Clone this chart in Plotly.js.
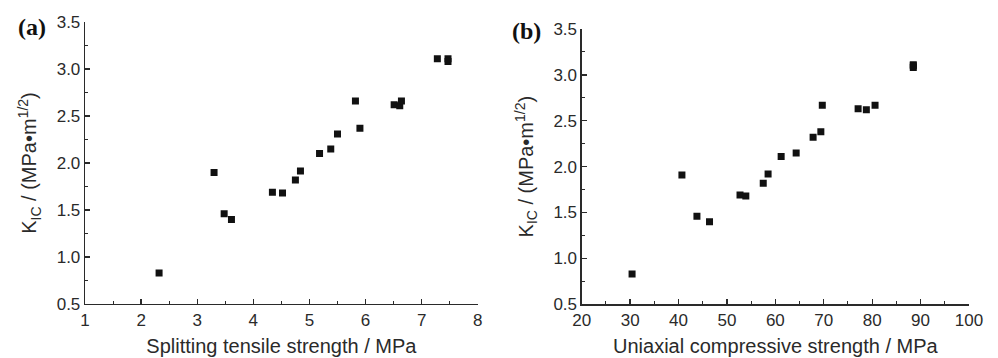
<!DOCTYPE html>
<html>
<head>
<meta charset="utf-8">
<script src="https://cdn.plot.ly/plotly-3.0.1.min.js"></script>
<style>html,body{margin:0;padding:0;background:#fff;}#chart{width:998px;height:358px;}</style>
</head>
<body>
<div id="chart"></div>
<script>
// Panel (a): splitting tensile strength vs K_IC
const tensileStrength = [2.32, 3.30, 3.48, 3.61, 4.34, 4.52, 4.75, 4.84, 5.18, 5.38, 5.50, 5.82, 5.90, 6.51, 6.61, 6.64, 7.28, 7.47, 7.47];
const kicA =            [0.83, 1.90, 1.46, 1.40, 1.69, 1.68, 1.82, 1.915, 2.10, 2.15, 2.31, 2.66, 2.37, 2.62, 2.61, 2.66, 3.11, 3.08, 3.11];
// Panel (b): uniaxial compressive strength vs K_IC
const compressiveStrength = [30.4, 40.7, 43.8, 46.4, 52.7, 53.9, 57.5, 58.5, 61.2, 64.3, 67.8, 69.4, 69.7, 77.1, 78.8, 80.6, 88.5, 88.5, 88.5];
const kicB =                [0.83, 1.91, 1.46, 1.40, 1.69, 1.68, 1.82, 1.92, 2.11, 2.15, 2.32, 2.38, 2.67, 2.63, 2.62, 2.67, 3.11, 3.08, 3.10];

const xTitleA = 'Splitting tensile strength / MPa';
const xTitleB = 'Uniaxial compressive strength / MPa';
const yTitle = 'K<sub>IC</sub> / (MPa\u2022m<sup>1/2</sup>)';

const axisColor = '#2a2a2a';
const tickFont = {family: 'Liberation Sans, Arial, sans-serif', size: 17, color: '#2a2a2a'};
const titleFont = {family: 'Liberation Sans, Arial, sans-serif', size: 20, color: '#2a2a2a'};

const marker = {symbol: 'square', size: 7, color: '#111111', line: {width: 0}};

const traces = [
  {x: tensileStrength, y: kicA, type: 'scatter', mode: 'markers', marker: marker, xaxis: 'x', yaxis: 'y', showlegend: false},
  {x: compressiveStrength, y: kicB, type: 'scatter', mode: 'markers', marker: marker, xaxis: 'x2', yaxis: 'y2', showlegend: false}
];

function axisBase(extra) {
  return Object.assign({
    showline: true, linecolor: axisColor, linewidth: 1.3, mirror: false,
    showgrid: false, zeroline: false,
    ticks: 'inside', ticklen: 5, tickwidth: 1.3, tickcolor: axisColor,
    tickfont: tickFont, fixedrange: true
  }, extra);
}

const layout = {
  width: 998, height: 358,
  margin: {l: 0, r: 0, t: 0, b: 0},
  paper_bgcolor: '#ffffff', plot_bgcolor: '#ffffff',
  xaxis: axisBase({domain: [0.0852, 0.4787], range: [1, 8], dtick: 1, tick0: 1, anchor: 'y',
    minor: {dtick: 0.5, ticks: 'inside', ticklen: 3, tickcolor: axisColor, tickwidth: 1},
    title: {text: xTitleA, font: titleFont, standoff: 10}}),
  yaxis: axisBase({domain: [0.1508, 0.9385], range: [0.5, 3.5], dtick: 0.5, tick0: 0.5, tickformat: '.1f', anchor: 'x',
    minor: {dtick: 0.25, ticks: 'inside', ticklen: 3, tickcolor: axisColor, tickwidth: 1},
    title: {text: yTitle, font: titleFont, standoff: 14}}),
  xaxis2: axisBase({domain: [0.5829, 0.9709], range: [20, 100], dtick: 10, tick0: 20, anchor: 'y2',
    minor: {dtick: 5, ticks: 'inside', ticklen: 3, tickcolor: axisColor, tickwidth: 1},
    title: {text: xTitleB, font: titleFont, standoff: 10}}),
  yaxis2: axisBase({domain: [0.15, 0.919], range: [0.5, 3.5], dtick: 0.5, tick0: 0.5, tickformat: '.1f', anchor: 'x2',
    minor: {dtick: 0.25, ticks: 'inside', ticklen: 3, tickcolor: axisColor, tickwidth: 1},
    title: {text: yTitle, font: titleFont, standoff: 14}}),
  annotations: [
    {text: '<b>(a)</b>', xref: 'paper', yref: 'paper', x: 16/998, y: 1 - 27/358, xanchor: 'left', yanchor: 'middle', showarrow: false,
     font: {family: 'Liberation Serif, Times New Roman, serif', size: 24, color: '#111'}},
    {text: '<b>(b)</b>', xref: 'paper', yref: 'paper', x: 510/998, y: 1 - 31/358, xanchor: 'left', yanchor: 'middle', showarrow: false,
     font: {family: 'Liberation Serif, Times New Roman, serif', size: 24, color: '#111'}}
  ]
};

Plotly.newPlot('chart', traces, layout, {staticPlot: true, displayModeBar: false});
</script>
</body>
</html>
